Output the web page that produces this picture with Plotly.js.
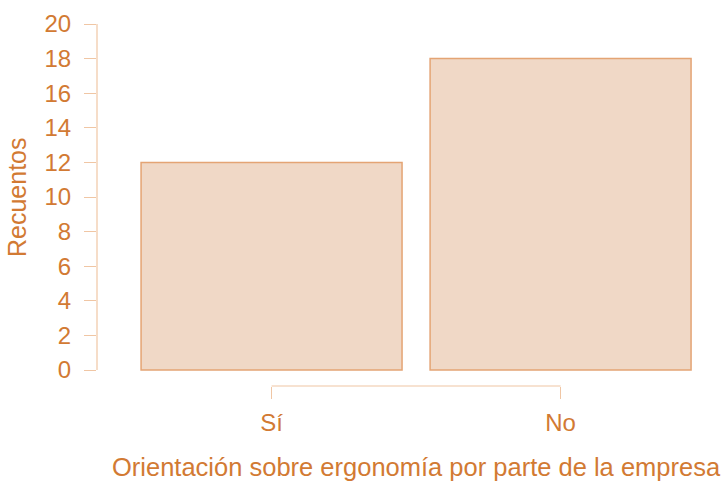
<!DOCTYPE html>
<html>
<head>
<meta charset="utf-8">
<script src="https://cdn.plot.ly/plotly-3.0.1.min.js"></script>
<style>html,body{margin:0;padding:0;background:#fff;}#chart{width:728px;height:481px;}</style>
</head>
<body>
<div id="chart"></div>
<script>
var categories = ['Sí', 'No'];
var counts = [12, 18];
var yTickValues = [0, 2, 4, 6, 8, 10, 12, 14, 16, 18, 20];
var xTitle = 'Orientación sobre ergonomía por parte de la empresa';
var yTitle = 'Recuentos';

var textColor = '#d27a33';
var axisColor = '#f0c6a4';
var barFill = '#f0d8c6';
var barLine = '#e4a474';
var fontFamily = '"Liberation Sans", Arial, sans-serif';

var xPos = categories.map(function (c, i) { return i; });

var trace = {
  type: 'bar',
  x: xPos,
  y: counts,
  width: 0.903,
  marker: { color: barFill, line: { color: barLine, width: 1.5 } },
  hoverinfo: 'skip'
};

var layout = {
  width: 728, height: 481,
  margin: { l: 97, r: 18, t: 24, b: 95 },
  paper_bgcolor: '#ffffff', plot_bgcolor: '#ffffff',
  showlegend: false,
  font: { family: fontFamily, color: textColor },
  xaxis: {
    range: [-0.604, 1.517],
    tickmode: 'array', tickvals: xPos, ticktext: categories,
    ticks: 'outside', ticklen: 12, tickwidth: 1, tickcolor: axisColor,
    showline: false, showgrid: false, zeroline: false,
    ticklabelstandoff: 3,
    tickfont: { size: 24, color: textColor, family: fontFamily }
  },
  yaxis: {
    range: [-0.925, 20],
    tickmode: 'array', tickvals: yTickValues,
    ticks: 'outside', ticklen: 12, tickwidth: 1, tickcolor: axisColor,
    showline: false, showgrid: false, zeroline: false,
    ticklabelstandoff: 8,
    tickfont: { size: 24, color: textColor, family: fontFamily }
  },
  shapes: [
    { type: 'line', xref: 'paper', x0: 0, x1: 0, yref: 'y', y0: yTickValues[0], y1: yTickValues[yTickValues.length - 1],
      line: { color: axisColor, width: 1.2 }, layer: 'above' },
    { type: 'line', xref: 'x', x0: xPos[0], x1: xPos[xPos.length - 1], yref: 'paper', y0: 0, y1: 0,
      line: { color: axisColor, width: 1.2 }, layer: 'above' }
  ],
  annotations: [
    { text: yTitle, xref: 'paper', x: -0.1305, yref: 'y', y: 10, textangle: -90,
      showarrow: false, xanchor: 'center', yanchor: 'middle',
      font: { size: 25, color: textColor, family: fontFamily } },
    { text: xTitle, xref: 'x', x: 0.5, yref: 'paper', y: -0.2238,
      showarrow: false, xanchor: 'center', yanchor: 'middle',
      font: { size: 25.5, color: textColor, family: fontFamily } }
  ]
};

Plotly.newPlot('chart', [trace], layout, { displayModeBar: false, staticPlot: true });
</script>
</body>
</html>
